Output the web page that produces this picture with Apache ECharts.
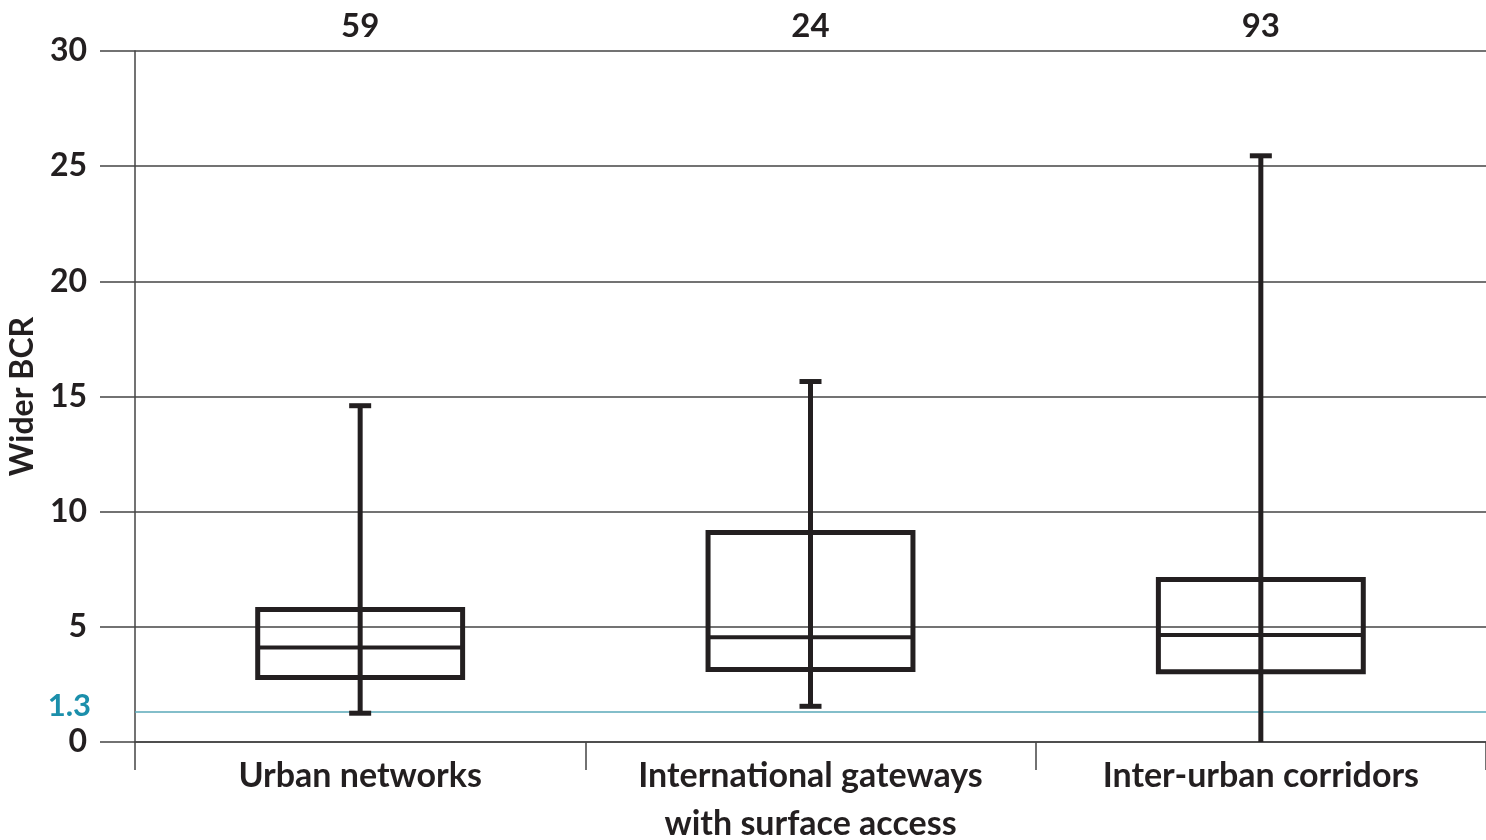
<!DOCTYPE html>
<html><head><meta charset="utf-8">
<script src="https://cdn.jsdelivr.net/npm/echarts@6/dist/echarts.min.js"></script>
<style>html,body{margin:0;padding:0;background:#fff}#c{width:1486px;height:840px}</style>
</head><body><div id="c"></div>
<script>
const categories = ['Urban networks', 'International gateways\nwith surface access', 'Inter-urban corridors'];
const counts = ['59', '24', '93'];
const whiskerLow = [1.25, 1.55, 0];
const q1 = [2.8, 3.15, 3.05];
const median = [4.1, 4.55, 4.65];
const q3 = [5.75, 9.1, 7.05];
const whiskerHigh = [14.6, 15.65, 25.45];
const threshold = 1.3;
const yTicks = [0, 5, 10, 15, 20, 25, 30];

const ink = '#231f20';
const font = 'Lato';
const boxData = categories.map((c, i) => [i, whiskerLow[i], q1[i], median[i], q3[i], whiskerHigh[i]]);

const chart = echarts.init(document.getElementById('c'));
chart.setOption({
  animation: false,
  grid: { left: 135, right: 0, top: 51, bottom: 98, outerBoundsMode: 'none', containLabel: false },
  xAxis: [{
    type: 'category', data: categories, position: 'bottom',
    axisLine: { show: true, lineStyle: { color: '#444', width: 1.5 } },
    axisTick: { show: true, length: 28, lineStyle: { color: '#444', width: 1.5 } },
    axisLabel: { color: ink, fontFamily: font, fontWeight: 'bold', fontSize: 34, lineHeight: 48, margin: 10 }
  }, {
    type: 'category', data: counts, position: 'top',
    axisLine: { show: false }, axisTick: { show: false },
    axisLabel: { color: ink, fontFamily: font, fontWeight: 'bold', fontSize: 33, margin: 8 }
  }],
  yAxis: {
    type: 'value', min: yTicks[0], max: yTicks[yTicks.length - 1], interval: 5,
    name: 'Wider BCR', nameLocation: 'middle', nameGap: 86, nameRotate: 90,
    nameTextStyle: { color: ink, fontFamily: font, fontWeight: 'bold', fontSize: 32 },
    axisLine: { show: true, lineStyle: { color: '#444', width: 1.5 } },
    axisTick: { show: true, length: 35, lineStyle: { color: '#444', width: 1.5 } },
    axisLabel: { color: ink, fontFamily: font, fontWeight: 'bold', fontSize: 32, margin: 48 },
    splitLine: { show: true, lineStyle: { color: '#444', width: 1.5 } }
  },
  series: [{
    type: 'custom',
    data: boxData,
    encode: { x: 0, y: [1, 2, 3, 4, 5] },
    renderItem: function (params, api) {
      const x = api.value(0);
      const pLow = api.coord([x, api.value(1)]);
      const pQ1 = api.coord([x, api.value(2)]);
      const pMed = api.coord([x, api.value(3)]);
      const pQ3 = api.coord([x, api.value(4)]);
      const pHigh = api.coord([x, api.value(5)]);
      const band = api.size([1, 0])[0];
      const bw = band * 0.455;
      const cap = 22;
      const cx = pLow[0];
      const st = { stroke: ink, lineWidth: 5, fill: null };
      const ch = [
        { type: 'line', shape: { x1: cx, y1: pHigh[1], x2: cx, y2: pLow[1] }, style: st },
        { type: 'rect', shape: { x: cx - bw / 2, y: pQ3[1], width: bw, height: pQ1[1] - pQ3[1] }, style: st },
        { type: 'line', shape: { x1: cx - bw / 2, y1: pMed[1], x2: cx + bw / 2, y2: pMed[1] }, style: { stroke: ink, lineWidth: 4 } },
        { type: 'line', shape: { x1: cx - cap / 2, y1: pHigh[1], x2: cx + cap / 2, y2: pHigh[1] }, style: st }
      ];
      if (api.value(1) > yTicks[0]) {
        ch.push({ type: 'line', shape: { x1: cx - cap / 2, y1: pLow[1], x2: cx + cap / 2, y2: pLow[1] }, style: st });
      }
      return { type: 'group', children: ch };
    },
    markLine: {
      silent: true, symbol: 'none',
      lineStyle: { color: '#5aa9b9', width: 1.5, type: 'solid' },
      label: { show: true, position: 'start', formatter: String(threshold), color: '#1b8fab', fontFamily: font, fontWeight: 'bold', fontSize: 31, distance: 44, offset: [0, -6] },
      data: [{ yAxis: threshold }]
    },
    z: 5
  }]
});
</script></body></html>
